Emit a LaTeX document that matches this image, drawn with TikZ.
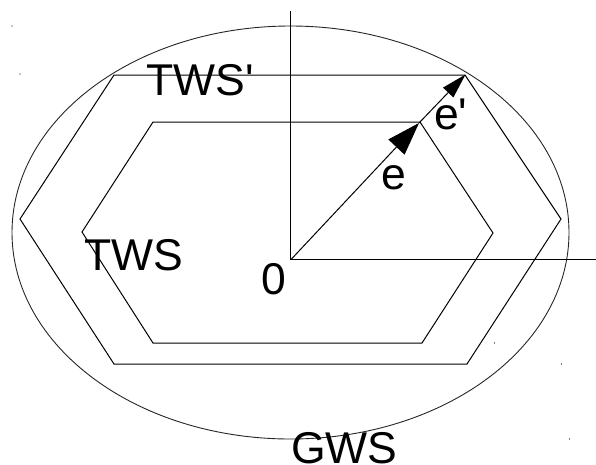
\documentclass[tikz,border=0pt]{standalone}
\usepackage{fontspec}
\newfontfamily\lsans{Liberation Sans}
\usetikzlibrary{arrows.meta}
\begin{document}
\begin{tikzpicture}[x=1pt,y=-1pt,
  lbl/.style={inner sep=0pt,anchor=base west,font=\lsans\fontsize{44.5}{50}\selectfont},
  hex/.style={draw=black,line width=1pt,line join=miter},
  axis/.style={draw=black,line width=1pt},
  vec/.style={draw=black,line width=1pt},
  dotmark/.style={fill=black,draw=none}]
\useasboundingbox (0,0) rectangle (596,464);
% ellipse GWS
\draw[black!85,line width=0.9pt] (290.5,232.5) ellipse [x radius=278.5pt, y radius=206.5pt];
% outer hexagon TWS'
\draw[hex] (114,75) -- (465,75) -- (561,219) -- (467,364) -- (114,364) -- (20,219) -- cycle;
% inner hexagon TWS
\draw[hex] (153,122) -- (420,122) -- (493,233) -- (422,343) -- (153,343) -- (82,232) -- cycle;
% axes
\coordinate (O) at (291,259.5);
\coordinate (ytop) at (290.5,11);
\coordinate (xend) at (596,259.5);
\coordinate (I) at (419,123);
\coordinate (Q) at (465.5,74.5);
\draw[axis] (ytop) -- (290.5,259.5) -- (xend);
% vectors
\draw[vec,-{Triangle[length=33pt,width=22pt]}] (O) -- (I);
\draw[vec,-{Triangle[length=25pt,width=14pt]}] (I) -- (Q);
% labels
\node[lbl] (twsp) at (146,95) {TWS'};
\node[lbl] (tws) at (84,270) {TWS};
\node[lbl] (zero) at (261,294.5) {0};
\node[lbl] (e) at (381,189.5) {e};
\node[lbl] (ep) at (434,129.5) {e'};
\node[lbl] (gws) at (291,463.5) {GWS};
% small marks
\foreach \p in {(12,26),(20,74),(494.5,343),(561.5,364),(569.5,439)}
  \fill[dotmark] \p circle (0.6pt);
\end{tikzpicture}
\end{document}
